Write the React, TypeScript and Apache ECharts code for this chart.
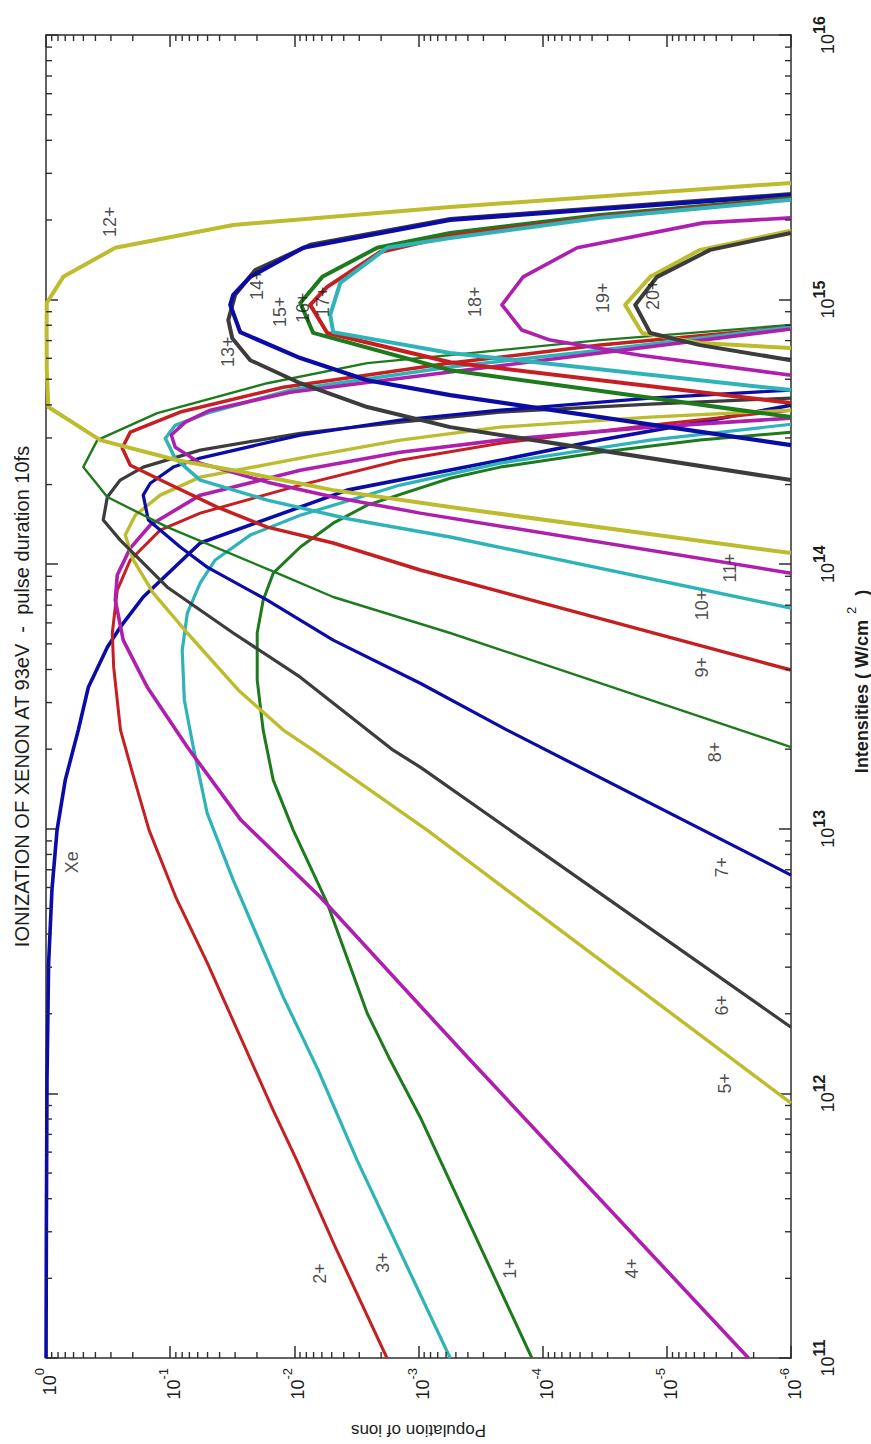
import React, { useEffect, useRef } from 'react';
import * as echarts from 'echarts';

const W = 871;
const H = 1444;
const FONT = '"Liberation Sans", Arial, Helvetica, sans-serif';
const INK = '#1c1c1c';
const AXIS_COLOR = '#2e2e2e';

// Each curve: [log10 intensity (W/cm²), log10 population]
const XE = [[11.0, -0.0005], [11.5, -0.003], [12.05, -0.008], [12.49, -0.021], [12.77, -0.048], [12.995, -0.089], [13.184, -0.155], [13.373, -0.26], [13.535, -0.341], [13.686, -0.494], [13.762, -0.598], [13.876, -0.783], [14.08, -1.242], [14.28, -2.426], [14.393, -3.658], [14.469, -4.463], [14.537, -5.268], [14.601, -6.0]];
const ION_1 = [[11.0, -3.913], [11.91, -3.014], [12.126, -2.772], [12.303, -2.587], [12.719, -2.265], [12.995, -1.991], [13.184, -1.83], [13.373, -1.749], [13.562, -1.701], [13.74, -1.701], [13.864, -1.749], [13.966, -1.83], [14.065, -2.048], [14.155, -2.313], [14.223, -2.587], [14.325, -3.255], [14.367, -3.658], [14.423, -4.463], [14.469, -5.268], [14.499, -6.0]];
const ION_2 = [[11.0, -2.746], [11.419, -2.33], [11.747, -2.02], [11.936, -1.83], [12.088, -1.685], [12.492, -1.3], [12.742, -1.045], [12.995, -0.83], [13.222, -0.69], [13.373, -0.6], [13.611, -0.545], [13.74, -0.534], [13.902, -0.574], [14.016, -0.679], [14.129, -0.92], [14.193, -1.242], [14.299, -2.048], [14.393, -2.853], [14.457, -3.658], [14.525, -4.866], [14.582, -6.0]];
const ION_3 = [[11.0, -3.255], [11.747, -2.506], [12.088, -2.192], [12.364, -1.911], [12.806, -1.508], [13.059, -1.298], [13.309, -1.186], [13.487, -1.114], [13.675, -1.097], [13.815, -1.138], [13.929, -1.242], [14.016, -1.363], [14.11, -1.645], [14.185, -2.048], [14.299, -2.853], [14.382, -3.658], [14.469, -4.866], [14.529, -6.0]];
const ION_4 = [[11.0, -5.657], [12.126, -3.416], [12.742, -2.209], [13.033, -1.57], [13.309, -1.138], [13.535, -0.816], [13.713, -0.622], [13.864, -0.558], [13.959, -0.574], [14.061, -0.679], [14.148, -0.84], [14.261, -1.242], [14.355, -2.048], [14.423, -2.853], [14.469, -3.658], [14.518, -4.866], [14.552, -6.0]];
const ION_5 = [[11.963, -6.0], [12.995, -3.07], [13.297, -2.152], [13.373, -1.911], [13.524, -1.55], [13.74, -1.138], [13.891, -0.864], [14.016, -0.703], [14.11, -0.638], [14.185, -0.719], [14.261, -0.92], [14.329, -1.242], [14.401, -2.048], [14.469, -2.853], [14.518, -3.658], [14.556, -4.866], [14.582, -6.0]];
const ION_6 = [[12.25, -6.0], [13.233, -3.014], [13.297, -2.796], [13.573, -2.048], [13.74, -1.508], [13.913, -0.977], [14.091, -0.598], [14.167, -0.461], [14.254, -0.494], [14.318, -0.598], [14.367, -0.783], [14.431, -1.242], [14.495, -2.048], [14.537, -2.853], [14.575, -3.658], [14.605, -4.866], [14.628, -6.0]];
const ION_7 = [[12.825, -6.0], [13.373, -3.714], [13.55, -3.014], [13.713, -2.313], [13.864, -1.782], [13.989, -1.298], [14.065, -1.081], [14.167, -0.824], [14.261, -0.783], [14.306, -0.84], [14.367, -1.025], [14.401, -1.242], [14.488, -2.048], [14.545, -2.853], [14.582, -3.658], [14.628, -4.866], [14.658, -6.0]];
const ION_8 = [[13.309, -6.0], [13.74, -3.255], [13.876, -2.313], [13.966, -1.862], [14.14, -0.977], [14.254, -0.494], [14.367, -0.3], [14.469, -0.413], [14.571, -0.896], [14.684, -1.782], [14.76, -2.587], [14.79, -3.255], [14.847, -4.463], [14.904, -6.0]];
const ION_9 = [[13.6, -6.0], [13.978, -3.014], [14.08, -2.313], [14.14, -1.782], [14.216, -1.379], [14.306, -0.977], [14.374, -0.679], [14.439, -0.614], [14.499, -0.679], [14.575, -1.081], [14.669, -1.911], [14.76, -3.255], [14.828, -4.463], [14.896, -6.0]];
const ION_10 = [[13.834, -6.0], [14.103, -3.255], [14.17, -2.45], [14.242, -1.782], [14.318, -1.242], [14.4, -1.04], [14.476, -0.961], [14.525, -1.041], [14.571, -1.298], [14.658, -1.967], [14.745, -3.255], [14.809, -4.463], [14.896, -6.0]];
const ION_11 = [[13.966, -6.0], [14.193, -3.014], [14.254, -2.313], [14.31, -1.782], [14.382, -1.242], [14.442, -1.041], [14.488, -1.009], [14.537, -1.122], [14.582, -1.323], [14.65, -1.967], [14.726, -3.255], [14.798, -4.463], [14.889, -6.0]];
const ION_12 = [[14.042, -6.0], [14.216, -3.255], [14.28, -2.313], [14.355, -1.508], [14.393, -1.057], [14.469, -0.437], [14.594, -0.019], [14.733, -0.006], [14.885, -0.005], [14.987, -0.006], [15.086, -0.139], [15.196, -0.558], [15.282, -1.508], [15.35, -3.255], [15.441, -6.0]];
const ION_13 = [[14.318, -6.0], [14.518, -3.255], [14.594, -2.587], [14.684, -2.048], [14.771, -1.645], [14.854, -1.5], [14.923, -1.468], [15.018, -1.524], [15.112, -1.685], [15.207, -2.128], [15.305, -3.255], [15.399, -6.0]];
const ION_14 = [[14.45, -6.0], [14.639, -3.255], [14.695, -2.587], [14.779, -2.048], [14.877, -1.564], [14.98, -1.484], [15.018, -1.508], [15.086, -1.645], [15.196, -2.072], [15.301, -3.255], [15.395, -6.0]];
const ION_15 = [[14.556, -6.0], [14.733, -3.255], [14.874, -2.152], [14.987, -2.048], [15.086, -2.225], [15.196, -2.667], [15.252, -3.255], [15.32, -4.463], [15.384, -6.0]];
const ION_16 = [[14.609, -6.0], [14.763, -3.255], [14.874, -2.265], [14.98, -2.128], [15.048, -2.265], [15.18, -2.692], [15.241, -3.255], [15.313, -4.463], [15.38, -6.0]];
const ION_17 = [[14.658, -6.0], [14.798, -3.255], [14.877, -2.313], [14.942, -2.289], [15.063, -2.37], [15.196, -2.748], [15.233, -3.255], [15.309, -4.463], [15.377, -6.0]];
const ION_18 = [[14.714, -6.0], [14.79, -4.785], [14.847, -4.06], [14.885, -3.832], [14.98, -3.672], [15.086, -3.843], [15.196, -4.278], [15.29, -5.292], [15.309, -6.0]];
const ION_19 = [[14.817, -6.0], [14.836, -5.268], [14.874, -4.801], [14.98, -4.664], [15.086, -4.866], [15.188, -5.268], [15.26, -6.0]];
const ION_20 = [[14.771, -6.0], [14.828, -5.268], [14.874, -4.866], [14.98, -4.745], [15.086, -4.922], [15.188, -5.349], [15.252, -6.0]];

const CURVES = [XE, ION_1, ION_2, ION_3, ION_4, ION_5, ION_6, ION_7, ION_8, ION_9, ION_10, ION_11, ION_12, ION_13, ION_14, ION_15, ION_16, ION_17, ION_18, ION_19, ION_20];
const CURVE_NAMES = ['Xe', '1+', '2+', '3+', '4+', '5+', '6+', '7+', '8+', '9+', '10+', '11+', '12+', '13+', '14+', '15+', '16+', '17+', '18+', '19+', '20+'];

// Where each charge-state tag sits: [log10 intensity, log10 population]
const TAG_POS = [[12.874, -0.212], [11.338, -3.738], [11.319, -2.209], [11.361, -2.716], [11.338, -4.721], [12.038, -5.469], [12.333, -5.445], [12.855, -5.445], [13.29, -5.389], [13.611, -5.284], [13.846, -5.284], [13.986, -5.51], [15.294, -0.518], [14.803, -1.468], [15.056, -1.701], [14.954, -1.886], [14.969, -2.071], [14.992, -2.232], [14.992, -3.456], [15.007, -4.487], [15.018, -4.89]];

// Axis decades and minor-tick multipliers
const POP_DECADES = [-6, -5, -4, -3, -2, -1];
const INT_DECADES = [11, 12, 13, 14, 15];
const MULTIPLIERS = [2, 3, 4, 5, 6, 7, 8, 9];

// Colour cycle b g r c m y k
const PALETTE = ['#0b0ba6', '#1d7a1d', '#c61f22', '#2eb3b8', '#ae1fae', '#bcbc2e', '#3c3c3c'];
const WIDTHS = [3.6, 3, 3, 3.2, 3.6, 3.4, 3.2, 3.2, 2.4, 3.5, 3.5, 3.5, 4, 4, 4.2, 4, 4, 4, 3.6, 4, 4];

const GRID = { left: 46, top: 35, right: 80, bottom: 86 };
const MAJOR_LEN = 12;
const MINOR_LEN = 6;

const toPoint = (p: number[]) => [Math.pow(10, p[1]), Math.pow(10, p[0])];

const decadeLabel = (v: number) => `{b|10}{s|${Math.round(Math.log10(v))}}`;

const axisLineStyle = { color: AXIS_COLOR, width: 1.5 };

function minorTickSeries(dir: 'x' | 'y', values: number[]) {
  return {
    type: 'custom',
    xAxisIndex: 0,
    yAxisIndex: 0,
    silent: true,
    clip: false,
    z: 10,
    encode: { x: 0, y: 1 },
    data: values.map((v) => (dir === 'x' ? [v, 1e13] : [0.01, v])),
    renderItem: (params: any, api: any) => {
      const cs = params.coordSys;
      const pt = api.coord([api.value(0), api.value(1)]);
      const style = { stroke: AXIS_COLOR, lineWidth: 1.4 };
      if (dir === 'x') {
        const top = cs.y;
        const bot = cs.y + cs.height;
        return {
          type: 'group',
          children: [
            { type: 'line', shape: { x1: pt[0], y1: top, x2: pt[0], y2: top + MINOR_LEN }, style },
            { type: 'line', shape: { x1: pt[0], y1: bot, x2: pt[0], y2: bot - MINOR_LEN }, style },
          ],
        };
      }
      const l = cs.x;
      const r = cs.x + cs.width;
      return {
        type: 'group',
        children: [
          { type: 'line', shape: { x1: l, y1: pt[1], x2: l + MINOR_LEN, y2: pt[1] }, style },
          { type: 'line', shape: { x1: r, y1: pt[1], x2: r - MINOR_LEN, y2: pt[1] }, style },
        ],
      };
    },
  };
}

export default function App() {
  const ref = useRef<HTMLDivElement>(null);

  useEffect(() => {
    if (!ref.current) return;
    const chart = echarts.init(ref.current, null, { renderer: 'svg', width: W, height: H });

    const popMinor: number[] = [];
    POP_DECADES.forEach((d) => MULTIPLIERS.forEach((m) => popMinor.push(m * Math.pow(10, d))));
    const intMinor: number[] = [];
    INT_DECADES.forEach((d) => MULTIPLIERS.forEach((m) => intMinor.push(m * Math.pow(10, d))));

    const popAxisBase = {
      type: 'log',
      logBase: 10,
      min: 1e-6,
      max: 1,
      inverse: true,
      splitNumber: 6,
      splitLine: { show: false },
      axisLine: { show: true, lineStyle: axisLineStyle },
      axisTick: { show: true, inside: true, length: MAJOR_LEN, lineStyle: axisLineStyle },
    };
    const intAxisBase = {
      type: 'log',
      logBase: 10,
      min: 1e11,
      max: 1e16,
      splitNumber: 5,
      splitLine: { show: false },
      axisLine: { show: true, lineStyle: axisLineStyle },
      axisTick: { show: true, inside: true, length: MAJOR_LEN, lineStyle: axisLineStyle },
    };

    const lineSeries = CURVES.map((curve, i) => ({
      type: 'line',
      name: CURVE_NAMES[i],
      xAxisIndex: 0,
      yAxisIndex: 0,
      data: curve.map(toPoint),
      showSymbol: false,
      symbol: 'none',
      smooth: false,
      clip: true,
      z: 3,
      lineStyle: { color: PALETTE[i % PALETTE.length], width: WIDTHS[i], join: 'round', cap: 'butt' },
    }));

    const tagSeries = {
      type: 'scatter',
      xAxisIndex: 0,
      yAxisIndex: 0,
      symbolSize: 1,
      silent: true,
      clip: false,
      z: 20,
      itemStyle: { color: 'transparent' },
      data: CURVE_NAMES.map((n, i) => ({ name: n, value: toPoint(TAG_POS[i]) })),
      label: {
        show: true,
        position: 'inside',
        formatter: '{b}',
        rotate: 90,
        fontSize: 18,
        fontFamily: FONT,
        color: INK,
      },
    };

    chart.setOption({
      animation: false,
      backgroundColor: '#ffffff',
      grid: { ...GRID, containLabel: false, outerBoundsMode: 'none' },
      xAxis: [
        {
          ...popAxisBase,
          position: 'bottom',
          name: 'Population of ions',
          nameLocation: 'middle',
          nameRotate: 180,
          nameGap: 64,
          nameTextStyle: { fontSize: 17, fontFamily: FONT, color: INK },
          axisLabel: {
            show: true,
            rotate: 90,
            margin: 10,
            formatter: decadeLabel,
            rich: {
              b: { fontSize: 18, fontFamily: FONT, color: INK, lineHeight: 26, verticalAlign: 'bottom' },
              s: { fontSize: 13, fontFamily: FONT, color: INK, lineHeight: 12, verticalAlign: 'top' },
            },
          },
        },
        { ...popAxisBase, position: 'top', axisLabel: { show: false } },
      ],
      yAxis: [
        {
          ...intAxisBase,
          position: 'right',
          name: '{m|Intensities ( W/cm}{p|2}{n| )}',
          nameLocation: 'middle',
          nameRotate: 90,
          nameGap: 44,
          nameTextStyle: {
            rich: {
              m: { fontSize: 18, fontWeight: 'bold', fontFamily: FONT, color: INK, lineHeight: 26, verticalAlign: 'bottom', padding: [0, 0, 0, 30] },
              n: { fontSize: 18, fontWeight: 'bold', fontFamily: FONT, color: INK, lineHeight: 26, verticalAlign: 'bottom' },
              p: { fontSize: 13, fontFamily: FONT, color: INK, lineHeight: 12, verticalAlign: 'top', padding: [0, 6, 0, 6] },
            },
          },
          axisLabel: {
            show: true,
            rotate: 90,
            margin: 20,
            formatter: decadeLabel,
            rich: {
              b: { fontSize: 18, fontFamily: FONT, color: INK, lineHeight: 26, verticalAlign: 'bottom' },
              s: { fontSize: 16, fontWeight: 'bold', fontFamily: FONT, color: INK, lineHeight: 14, verticalAlign: 'top' },
            },
          },
        },
        { ...intAxisBase, position: 'left', axisLabel: { show: false } },
      ],
      graphic: [
        {
          type: 'text',
          x: 22,
          y: GRID.top + (H - GRID.top - GRID.bottom) / 2,
          rotation: Math.PI / 2,
          silent: true,
          style: {
            text: 'IONIZATION OF XENON AT 93eV  -  pulse duration 10fs',
            fontSize: 20,
            fontFamily: FONT,
            fill: INK,
            align: 'center',
            verticalAlign: 'middle',
            textAlign: 'center',
            textVerticalAlign: 'middle',
          },
        },
      ],
      series: [
        ...lineSeries,
        minorTickSeries('x', popMinor),
        minorTickSeries('y', intMinor),
        tagSeries,
      ],
    });

    return () => chart.dispose();
  }, []);

  return (
    <div style={{ position: 'absolute', left: 0, top: 0, width: W, height: H, background: '#fff' }}>
      <div ref={ref} style={{ width: W, height: H }} />
    </div>
  );
}
